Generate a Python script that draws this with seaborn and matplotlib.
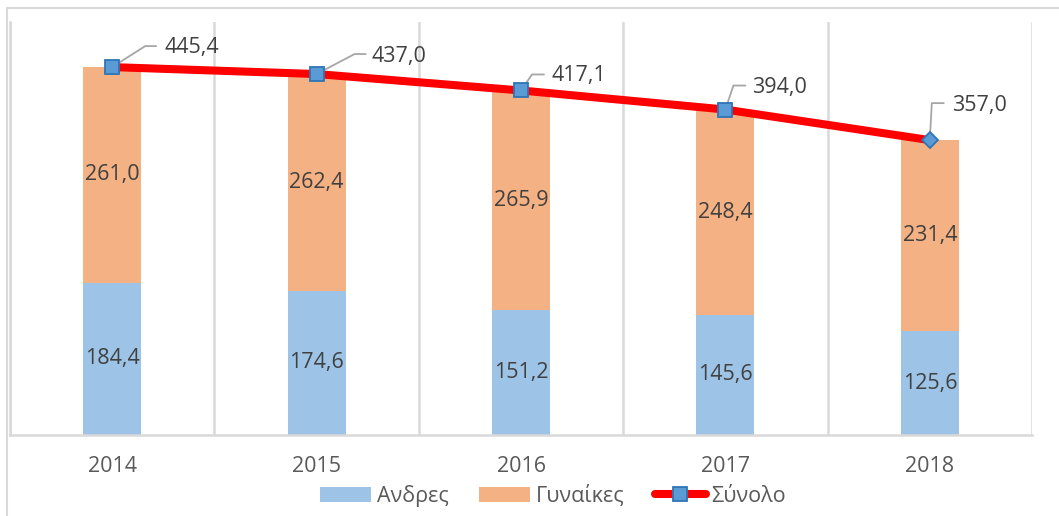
import numpy as np
import matplotlib
matplotlib.use("Agg")
import matplotlib.pyplot as plt
import seaborn as sns
from matplotlib.patches import Patch, Rectangle
from matplotlib.lines import Line2D

# data
years = ['2014', '2015', '2016', '2017', '2018']
men = [184.4, 174.6, 151.2, 145.6, 125.6]
women = [261.0, 262.4, 265.9, 248.4, 231.4]
totals = [445.4, 437.0, 417.1, 394.0, 357.0]
series_names = ['Ανδρες', 'Γυναίκες', 'Σύνολο']

# leader line / label offsets for the total labels (pixels: elbow, end of elbow, text)
label_offsets = [((33, 21), (44, 21), (52, 20)),
                 ((38, 20), (49, 20), (55, 18)),
                 ((11, 16), (23, 16), (30, 15)),
                 ((8, 24), (20, 24), (27, 22)),
                 ((2, 37), (14, 37), (22, 35))]

blue = '#9DC3E6'
orange = '#F4B183'
red = '#FF0000'
mk_face = '#5B9BD5'
mk_edge = '#2E75B6'
grid_col = '#D9D9D9'
txt_col = '#404040'
fs = 15.5

sns.set_style('white')
plt.rcParams['font.family'] = ['Open Sans', 'DejaVu Sans']

fig = plt.figure(figsize=(10.59, 5.16), dpi=100)
W, H = 1059, 516
ax = fig.add_axes([10 / W, (H - 435) / H, (1032 - 10) / W, (435 - 22) / H])

pos = np.arange(len(years))
# stacked bars: total (orange shows on top) then men over it
sns.barplot(x=pos, y=totals, color=orange, width=0.284, saturation=1,
            linewidth=0, ax=ax, native_scale=True)
sns.barplot(x=pos, y=men, color=blue, width=0.284, saturation=1,
            linewidth=0, ax=ax, native_scale=True)

ax.set_xlim(-0.5, 4.5)
ax.set_ylim(0, 500)

# total line, squares except the last point which is a diamond
ax.plot(pos, totals, color=red, lw=5.8, zorder=3, solid_capstyle='butt')
ax.plot(pos[:-1], totals[:-1], ls='none', marker='s', ms=10.5, mfc=mk_face,
        mec=mk_edge, mew=1.3, zorder=4)
ax.plot(pos[-1:], totals[-1:], ls='none', marker='D', ms=8, mfc=mk_face,
        mec=mk_edge, mew=1.3, zorder=4)

# segment labels
for i in range(len(years)):
    ax.text(pos[i], men[i] / 2, f'{men[i]:.1f}'.replace('.', ','), ha='center',
            va='center', fontsize=fs, color=txt_col)
    ax.text(pos[i], men[i] + women[i] / 2, f'{women[i]:.1f}'.replace('.', ','),
            ha='center', va='center', fontsize=fs, color=txt_col)

# total labels with leader lines (leader built in pixel offsets from the marker)
for i, (elb, hend, toff) in enumerate(label_offsets):
    x0, y0 = ax.transData.transform((pos[i], totals[i]))
    xs = [x0, x0 + elb[0], x0 + hend[0]]
    ys = [y0, y0 + elb[1], y0 + hend[1]]
    pts = ax.transData.inverted().transform(np.column_stack([xs, ys]))
    ax.plot(pts[:, 0], pts[:, 1], color='#A6A6A6', lw=1.3, zorder=3.5)
    ax.annotate(f'{totals[i]:.1f}'.replace('.', ','), xy=(pos[i], totals[i]),
                xytext=toff, textcoords='offset pixels', ha='left', va='center',
                fontsize=fs, color=txt_col, zorder=6)

ax.set_xticks(pos)
ax.set_xticklabels(years)
ax.set_xticks(np.arange(-0.5, 5, 1), minor=True)
ax.grid(which='minor', axis='x', color=grid_col, lw=1.8)
ax.grid(which='major', axis='both', visible=False)
ax.set_yticks([])
ax.tick_params(axis='x', which='both', length=0, labelsize=fs,
               labelcolor='#595959', pad=15)
for s in ['top', 'right']:
    ax.spines[s].set_visible(False)
for s in ['left', 'bottom']:
    ax.spines[s].set_color(grid_col)
    ax.spines[s].set_linewidth(1.8)
ax.set_xlabel('')
ax.set_ylabel('')

handles = [Patch(facecolor=blue, edgecolor='none'),
           Patch(facecolor=orange, edgecolor='none'),
           Line2D([], [], color=red, lw=5.8, marker='s', ms=10.5, mfc=mk_face,
                  mec=mk_edge, mew=1.3)]
leg = fig.legend(handles, series_names, loc='center',
                 bbox_to_anchor=(553 / W, 1 - 496 / H),
                 ncol=3, frameon=False, fontsize=fs, handlelength=2.4,
                 handleheight=0.7, handletextpad=0.25, columnspacing=1.4)
for t in leg.get_texts():
    t.set_color('#595959')

# outer chart frame (only its top and left edges fall inside the image)
fig.patches.append(Rectangle((7 / W, -0.1), 1.2, 1.1 - 8 / H, transform=fig.transFigure,
                             fill=False, edgecolor=grid_col, lw=1.5))

fig.savefig('out.png', dpi=100)
